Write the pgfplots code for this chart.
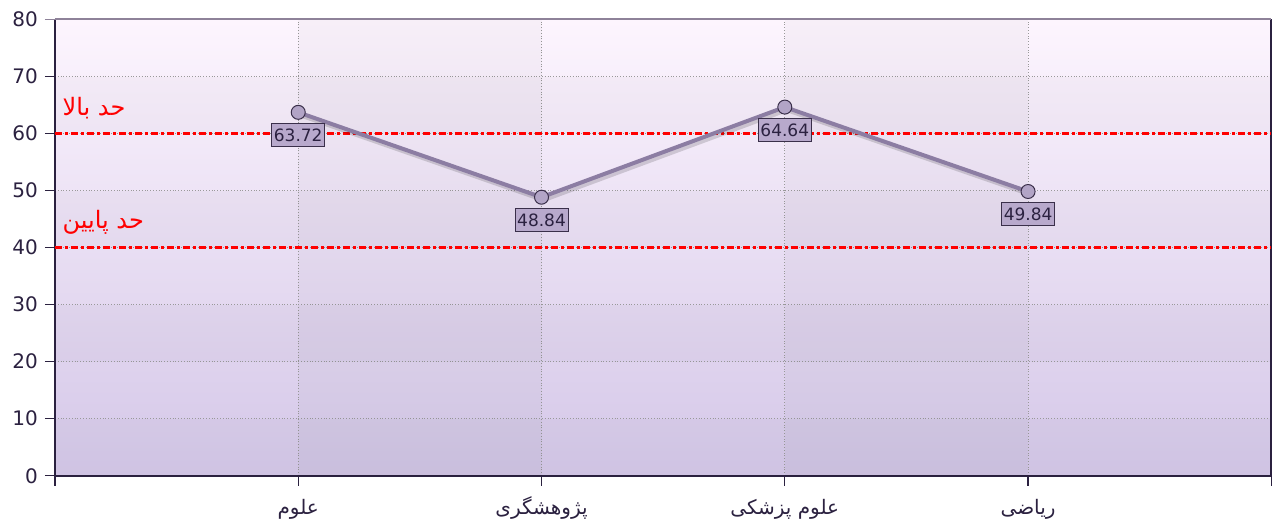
\documentclass[border=0pt]{standalone}
\usepackage{pgfplots}
\pgfplotsset{compat=1.18}
\usepackage{fontspec}
\setmainfont{DejaVu Sans}
\newfontfamily\fa[Script=Arabic]{DejaVu Sans}
\TeXXeTstate=1
\definecolor{bgtop}{HTML}{FDF5FE}
\definecolor{bgbot}{HTML}{D4C7E8}
\definecolor{axisdark}{HTML}{2B2140}
\definecolor{txtdark}{HTML}{2B2140}
\definecolor{linec}{HTML}{8C7DA3}
\definecolor{markf}{HTML}{B2A4C6}
\definecolor{markd}{HTML}{3A2F4A}
\definecolor{labf}{HTML}{B8A9CC}
\definecolor{topline}{HTML}{8E8299}
\begin{document}
\begin{tikzpicture}
\begin{axis}[
  name=ax, at={(27.5pt,25pt)}, anchor=south west,
  scale only axis, width=608.5pt, height=228.25pt,
  xmin=0, xmax=5, ymin=0, ymax=80,
  xtick={0,1,2,3,4,5},
  xticklabels={{},{\fa\beginR علوم\endR},{\fa\beginR پژوهشگری\endR},{\fa\beginR علوم پزشکی\endR},{\fa\beginR ریاضی\endR},{}},
  ytick={0,10,...,80},
  xtick pos=bottom, ytick pos=left,
  axis background/.style={top color=bgtop, bottom color=bgbot},
  grid=major,
  major grid style={densely dotted, draw=black!40, line width=0.4pt},
  axis line style={draw=axisdark, line width=0.9pt},
  tick style={draw=axisdark, line width=0.6pt},
  tick align=outside, major tick length=5pt,
  xticklabel style={font=\fontsize{10}{12}\selectfont, text=txtdark, text height=8pt, text depth=3pt, yshift=-3pt},
  yticklabel style={font=\fontsize{10}{12}\selectfont, text=txtdark},
  /pgf/number format/assume math mode=true,
  clip=false,
]
% subtle bands
\fill[black, opacity=0.022] (axis cs:1,0) rectangle (axis cs:2,80);
\fill[black, opacity=0.022] (axis cs:3,0) rectangle (axis cs:4,80);
\fill[black, opacity=0.018] (axis cs:0,60) rectangle (axis cs:5,70);
\fill[black, opacity=0.018] (axis cs:0,40) rectangle (axis cs:5,50);
\fill[black, opacity=0.018] (axis cs:0,20) rectangle (axis cs:5,30);
\fill[black, opacity=0.018] (axis cs:0,0) rectangle (axis cs:5,10);
% limit lines
\addplot[red, line width=1.5pt, dash pattern=on 3.5pt off 1.5pt on 1.5pt off 1.5pt] coordinates {(0,60) (5,60)};
\addplot[red, line width=1.5pt, dash pattern=on 3.5pt off 1.5pt on 1.5pt off 1.5pt] coordinates {(0,40) (5,40)};
\node[anchor=west, text=red, font=\fa\fontsize{12}{14}\selectfont, inner sep=0pt] at (axis cs:0.03,64.4) {\beginR حد بالا\endR};
\node[anchor=west, text=red, font=\fa\fontsize{12}{14}\selectfont, inner sep=0pt] at (axis cs:0.03,44.4) {\beginR حد پایین\endR};
% shadow
\addplot[draw=black, opacity=0.15, line width=2pt, xshift=1pt, yshift=-1.5pt] coordinates {(1,63.72) (2,48.84) (3,64.64) (4,49.84)};
% main series
\addplot[color=linec, line width=2pt, mark=*, mark size=3.5pt,
  mark options={fill=markf, draw=markd, line width=0.5pt},
  nodes near coords,
  nodes near coords style={anchor=north, yshift=-5.5pt, fill=labf, draw=markd, line width=0.4pt,
    inner xsep=1.1pt, inner ysep=0pt, minimum height=11.5pt,
    font=\fontsize{8.5}{10}\selectfont, text=txtdark,
    /pgf/number format/.cd, fixed, precision=2, fixed zerofill},
] coordinates {(1,63.72) (2,48.84) (3,64.64) (4,49.84)};
\draw[topline, line width=1pt] (axis cs:0,80) -- (axis cs:5,80);
\draw[topline, line width=0.6pt] (axis cs:0,80) -- ++(-5pt,0);
\end{axis}
\path (0,0) rectangle (639pt,263pt);
\end{tikzpicture}
\end{document}
